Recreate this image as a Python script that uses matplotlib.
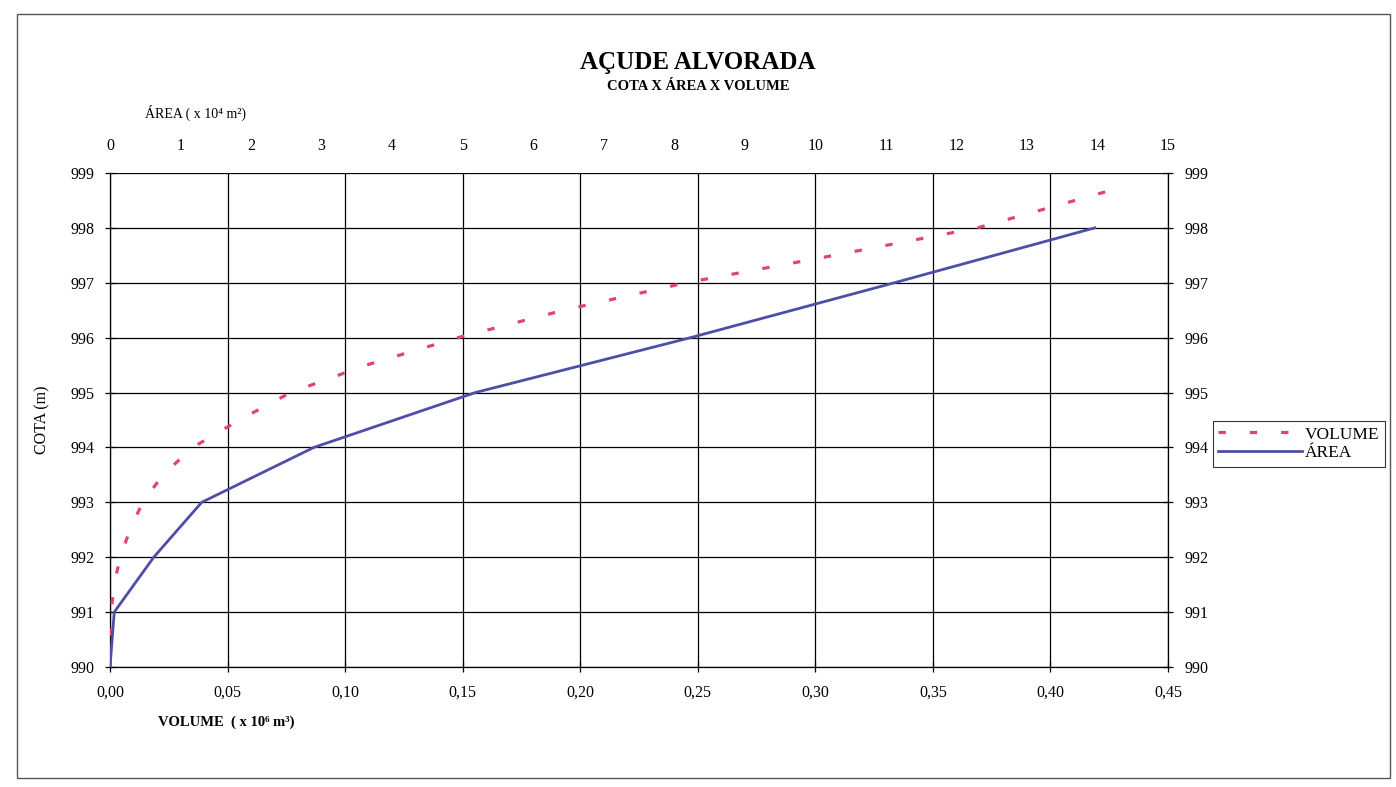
import matplotlib
matplotlib.use("Agg")
import matplotlib.pyplot as plt
from matplotlib.patches import Rectangle
from matplotlib.ticker import FixedLocator, FuncFormatter

plt.rcParams['font.family'] = ['Liberation Serif', 'DejaVu Serif']

# cota (m) x volume (x 10^6 m3)
cota_vol = [990, 991, 991.5, 992, 992.5, 993, 993.5, 994, 994.5, 995,
            995.5, 996, 996.5, 997, 997.5, 998, 998.7]
volume = [0.0, 0.0004, 0.0018, 0.0043, 0.0085, 0.0139, 0.0225, 0.0352, 0.0550, 0.0768,
          0.109, 0.148, 0.193, 0.245, 0.308, 0.369, 0.427]

# cota (m) x area (x 10^4 m2)
cota_area = [990, 990.5, 991, 992, 993, 994, 995, 996, 997, 998]
area = [0.0, 0.03, 0.06, 0.62, 1.30, 2.89, 5.18, 8.23, 11.12, 13.96]

vol_ticks = [0.00, 0.05, 0.10, 0.15, 0.20, 0.25, 0.30, 0.35, 0.40, 0.45]
area_ticks = list(range(0, 16))
cota_ticks = list(range(990, 1000))

COR_VOL = '#e2436f'
COR_AREA = '#4e4ea6'

fig = plt.figure(figsize=(13.96, 7.87), dpi=100)
ax = fig.add_axes([0.0788, 0.1525, 0.7579, 0.6277])

# volume no eixo de baixo
l_vol, = ax.plot(volume, cota_vol, color=COR_VOL, lw=2.3, linestyle=(0, (2.3, 7.5)),
                 label='VOLUME', zorder=3)
ax.set_xlim(0, 0.45)
ax.set_ylim(990, 999)
ax.xaxis.set_major_locator(FixedLocator(vol_ticks))
ax.xaxis.set_major_formatter(FuncFormatter(lambda v, p: f"{v:.2f}".replace('.', ',')))
ax.yaxis.set_major_locator(FixedLocator(cota_ticks))
ax.grid(True, color='black', lw=0.9)
ax.set_axisbelow(True)
ax.tick_params(axis='x', direction='inout', length=7, width=0.9, pad=9, labelsize=11.5)
ax.tick_params(axis='y', direction='inout', length=7, width=0.9, pad=8, labelsize=11.5,
               right=True, labelright=True)
ax.spines['top'].set_visible(False)
for s in ['left', 'right', 'bottom']:
    ax.spines[s].set_linewidth(0.9)

# area no eixo de cima
ax2 = ax.twiny()
l_area, = ax2.plot(area, cota_area, color=COR_AREA, lw=2.0, label='ÁREA', zorder=3)
ax2.set_xlim(0, 15)
ax2.xaxis.set_major_locator(FixedLocator(area_ticks))
ax2.tick_params(axis='x', length=0, pad=14, labelsize=11.5)
for s in ax2.spines.values():
    s.set_visible(False)

# textos
fig.text(0.5, 1 - 62 / 787, 'AÇUDE ALVORADA', ha='center', va='center',
         fontsize=18, fontweight='bold')
fig.text(0.5, 1 - 86 / 787, 'COTA X ÁREA X VOLUME', ha='center', va='center',
         fontsize=10.5, fontweight='bold')
fig.text(145 / 1396, 1 - 113 / 787, 'ÁREA ( x 10⁴ m²)', ha='left', va='center', fontsize=10)
fig.text(158 / 1396, 1 - 722 / 787, 'VOLUME  ( x 10⁶ m³)', ha='left', va='center',
         fontsize=10.5, fontweight='bold')
fig.text(42 / 1396, 1 - 420 / 787, 'COTA (m)', ha='center', va='center',
         rotation=90, fontsize=11.5)

leg = fig.legend(handles=[l_vol, l_area], loc='center left',
                 bbox_to_anchor=(0.869, 0.436), fontsize=12.5, frameon=True,
                 fancybox=False, edgecolor='black', handlelength=4.8,
                 handletextpad=0.2, borderpad=0.3, labelspacing=0.15,
                 borderaxespad=0)
leg.get_frame().set_linewidth(0.8)

# moldura
fig.add_artist(Rectangle((0.012, 0.012), 0.984, 0.97, transform=fig.transFigure,
                         fill=False, edgecolor='#555555', lw=1.0))

fig.savefig('out.png', dpi=100)
